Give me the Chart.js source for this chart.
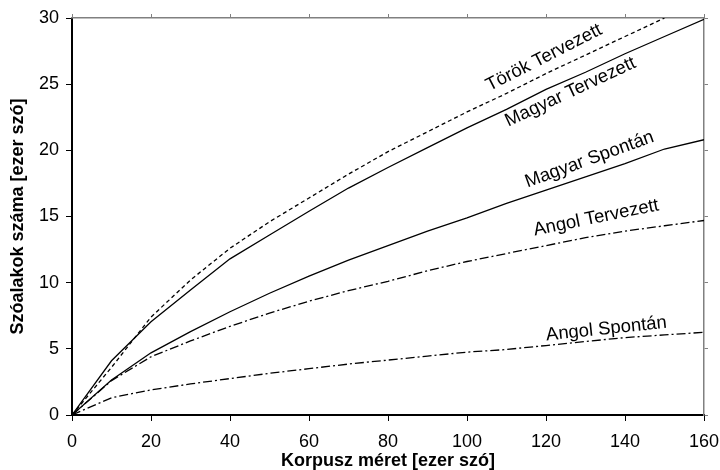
<!DOCTYPE html>
<html>
<head>
<meta charset="utf-8">
<script src="https://cdn.jsdelivr.net/npm/chart.js@4.4.1/dist/chart.umd.min.js"></script>
<style>
  html, body { margin: 0; padding: 0; background: #ffffff; }
  #wrap { width: 720px; height: 470px; }
</style>
</head>
<body>
<div id="wrap"><canvas id="chart" width="720" height="470"></canvas></div>
<script>
// Corpus size (thousand words) and number of distinct word forms (thousands)
const corpusSize = [0, 10, 20, 30, 40, 50, 60, 70, 80, 90, 100, 110, 120, 130, 140, 150, 160];

const torokTervezett  = [0, 3.6, 7.4, 10.2, 12.6, 14.6, 16.4, 18.2, 19.9, 21.4, 22.9, 24.3, 25.8, 27.2, 28.6, 30.0];
const magyarTervezett = [0, 4.1, 7.05, 9.45, 11.8, 13.6, 15.4, 17.15, 18.7, 20.2, 21.7, 23.1, 24.6, 25.9, 27.3, 28.6, 29.9];
const magyarSpontan   = [0, 2.65, 4.7, 6.3, 7.8, 9.2, 10.5, 11.7, 12.8, 13.9, 14.9, 16.0, 17.0, 18.0, 19.0, 20.1, 20.8];
const angolTervezett  = [0, 2.6, 4.4, 5.6, 6.7, 7.7, 8.6, 9.4, 10.1, 10.9, 11.6, 12.2, 12.8, 13.4, 13.9, 14.3, 14.7];
const angolSpontan    = [0, 1.3, 1.9, 2.35, 2.75, 3.15, 3.5, 3.85, 4.15, 4.45, 4.75, 4.95, 5.25, 5.55, 5.85, 6.05, 6.25];

const xTicks = [0, 20, 40, 60, 80, 100, 120, 140, 160];
const yTicks = [0, 5, 10, 15, 20, 25, 30];

// Curve captions: anchor in data units plus text angle (degrees)
const captionText  = ['Török Tervezett', 'Magyar Tervezett', 'Magyar Spontán', 'Angol Tervezett', 'Angol Spontán'];
const captionX     = [119.5, 126.2, 131.0, 132.7, 135.3];
const captionY     = [27.0, 24.4, 19.3, 14.9, 6.5];
const captionAngle = [-27, -25, -20, -11.5, -6];

const FONT = '"Liberation Sans", Arial, sans-serif';

function toPoints(values) {
  return values.map((v, i) => ({ x: corpusSize[i], y: v }));
}

const SOLID = [];
const DASHED = [4, 3];
const DASH_DOT = [9, 3, 2, 3];

function series(label, values, dash) {
  return {
    label,
    data: toPoints(values),
    borderColor: '#000000',
    borderWidth: 1.3,
    borderDash: dash,
    pointRadius: 0,
    tension: 0,
    fill: false
  };
}

const captionPlugin = {
  id: 'curveCaptions',
  afterDatasetsDraw(chart) {
    const { ctx, scales } = chart;
    ctx.save();
    ctx.font = '18.5px ' + FONT;
    ctx.fillStyle = '#000000';
    ctx.textAlign = 'center';
    ctx.textBaseline = 'middle';
    captionText.forEach((txt, i) => {
      const px = scales.x.getPixelForValue(captionX[i]);
      const py = scales.y.getPixelForValue(captionY[i]);
      ctx.save();
      ctx.translate(px, py);
      ctx.rotate(captionAngle[i] * Math.PI / 180);
      ctx.fillText(txt, 0, 0);
      ctx.restore();
    });
    ctx.restore();
  }
};

const tickFont = { family: FONT, size: 18 };
const titleFont = { family: FONT, size: 18, weight: 'bold', lineHeight: 1 };

new Chart(document.getElementById('chart'), {
  type: 'line',
  data: {
    datasets: [
      series('Török Tervezett', torokTervezett, DASHED),
      series('Magyar Tervezett', magyarTervezett, SOLID),
      series('Magyar Spontán', magyarSpontan, SOLID),
      series('Angol Tervezett', angolTervezett, DASH_DOT),
      series('Angol Spontán', angolSpontan, DASH_DOT)
    ]
  },
  options: {
    responsive: false,
    animation: false,
    layout: { padding: { left: 0, top: 14, right: 0, bottom: 0 } },
    plugins: {
      legend: { display: false },
      tooltip: { enabled: false }
    },
    scales: {
      x: {
        type: 'linear',
        position: 'bottom',
        min: 0, max: 160,
        afterBuildTicks: (s) => { s.ticks = xTicks.map(v => ({ value: v })); },
        afterFit: (s) => { s.height = 55; s.paddingRight = 16; s.paddingLeft = 10; },
        ticks: { font: tickFont, color: '#000000', padding: 10, maxRotation: 0 },
        grid: { drawOnChartArea: false, drawTicks: true, tickLength: 6, color: '#000000', lineWidth: 1 },
        border: { display: true, color: '#000000', width: 2 },
        title: { display: true, text: 'Korpusz méret [ezer szó]', font: titleFont, color: '#000000', padding: { top: 0, bottom: 0 } }
      },
      y: {
        type: 'linear',
        position: 'left',
        min: 0, max: 30,
        afterBuildTicks: (s) => { s.ticks = yTicks.map(v => ({ value: v })); },
        afterFit: (s) => { s.width = 72; },
        ticks: { font: tickFont, color: '#000000', padding: 7 },
        grid: { drawOnChartArea: false, drawTicks: true, tickLength: 6, color: '#000000', lineWidth: 1 },
        border: { display: true, color: '#000000', width: 2 },
        title: { display: true, text: 'Szóalakok száma [ezer szó]', font: titleFont, color: '#000000', padding: { top: 9, bottom: 0 } }
      },
      xTop: {
        type: 'linear',
        position: 'top',
        min: 0, max: 160,
        afterBuildTicks: (s) => { s.ticks = xTicks.map(v => ({ value: v })); },
        ticks: { display: false },
        grid: { drawOnChartArea: false, drawTicks: true, tickLength: 4, color: '#808080', lineWidth: 1 },
        border: { display: true, color: '#808080', width: 1.5 }
      },
      yRight: {
        type: 'linear',
        position: 'right',
        min: 0, max: 30,
        afterBuildTicks: (s) => { s.ticks = yTicks.map(v => ({ value: v })); },
        ticks: { display: false },
        grid: { drawOnChartArea: false, drawTicks: true, tickLength: 4, color: '#808080', lineWidth: 1 },
        border: { display: true, color: '#808080', width: 1.5 }
      }
    }
  },
  plugins: [captionPlugin]
});
</script>
</body>
</html>
